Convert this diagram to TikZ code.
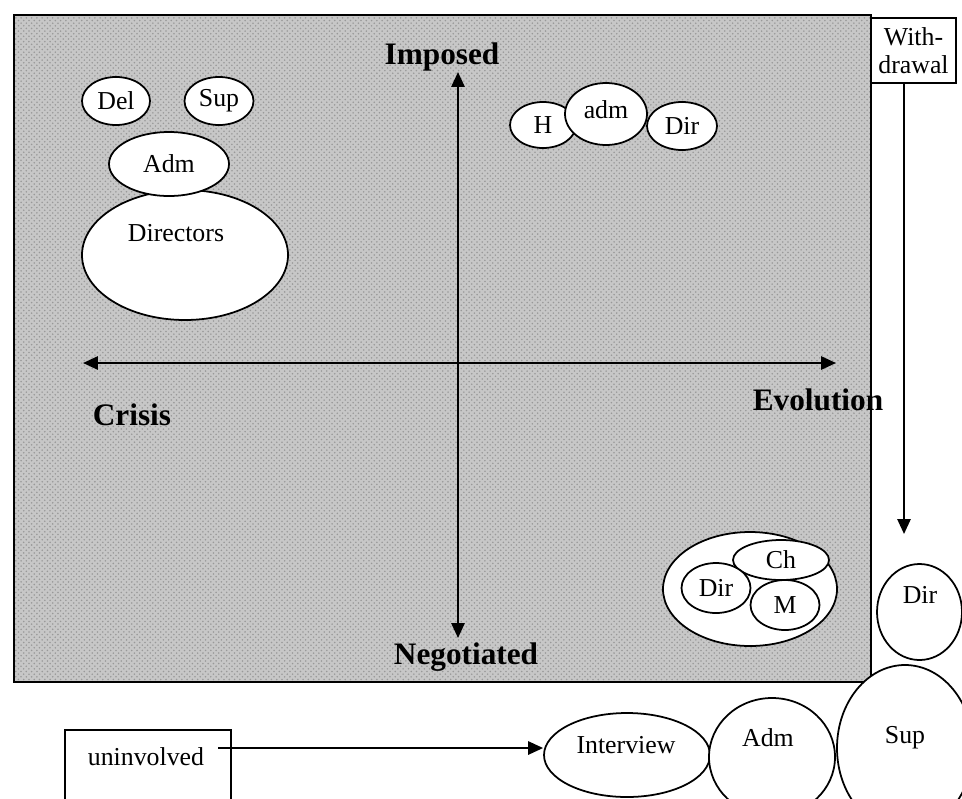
\documentclass[tikz,border=0pt]{standalone}
\usepackage{fontspec}
\setmainfont{Liberation Serif}
\usetikzlibrary{shapes.geometric,arrows.meta,patterns}
\newcommand{\px}{0.02cm}
\newcommand{\txtSize}{\fontsize{14.7}{16}\selectfont}
\newcommand{\axisSize}{\fontsize{17.8}{20}\selectfont\bfseries}

\begin{document}
\begin{tikzpicture}[x=\px, y=-\px]
  \tikzset{bub/.style 2 args={ellipse, draw, line width=1pt, fill=white, inner sep=0pt,
             minimum width=#1*\px, minimum height=#2*\px, font=\txtSize},
           txt/.style={inner sep=0pt, font=\txtSize},
           axlabel/.style={inner sep=0pt, font=\axisSize},
           axis/.style={line width=1.3pt, {Triangle[length=8.5pt,width=7.5pt]}-{Triangle[length=8.5pt,width=7.5pt]}},
           link/.style={line width=1.2pt, -{Triangle[length=8.5pt,width=7.5pt]}},
           boxed/.style={draw, line width=1pt, fill=white, inner sep=0pt, font=\txtSize, align=center}}
  \useasboundingbox (0,0) rectangle (962,798);
  \clip (0,0) rectangle (962,798);
  \fill[black!22] (14,15) rectangle (871,682);
  \fill[pattern=crosshatch dots, pattern color=black!40] (14,15) rectangle (871,682);
  \draw[line width=1.2pt] (14,15) rectangle (871,682);
  \coordinate (top) at (458,72);
  \coordinate (bottom) at (458,638);
  \coordinate (left) at (83,363);
  \coordinate (right) at (836,363);
  \draw[axis] (top) -- (bottom);
  \draw[axis] (left) -- (right);
  \node[axlabel] (imposed) at (442,57) {Imposed};
  \node[axlabel] (negotiated) at (466,657) {Negotiated};
  \node[axlabel] (crisis) at (132,415) {Crisis};
  \node[axlabel] (evolution) at (818,400) {Evolution};
  \node[bub={206}{130}] (directors) at (185,255) {};
  \node[txt] (directorsT) at (176,233) {Directors};
  \node[bub={120}{64}] (admL) at (169,164) {Adm};
  \node[bub={68}{48}] (del) at (116,101) {Del};
  \node[bub={69}{48}] (supL) at (219,101) {Sup};
  \node[bub={66}{46}] (h) at (543,125) {H};
  \node[bub={70}{48}] (dirT) at (682,126) {Dir};
  \node[bub={82}{62}] (admT) at (606,114) {};
  \node[txt] (admTT) at (606,110) {adm};
  \node[bub={174}{114}] (group) at (750,589) {};
  \node[bub={96}{40}] (ch) at (781,560) {Ch};
  \node[bub={69}{50}] (dirG) at (716,588) {Dir};
  \node[bub={69}{50}] (m) at (785,605) {M};
  \node[boxed, minimum width=85*\px, minimum height=65*\px] (withdrawal) at (913.5,50.5) {With-\\drawal};
  \coordinate (wdEnd) at (904,534);
  \draw[link] (withdrawal.south -| wdEnd) -- (wdEnd);
  \node[bub={85}{96}] (dirR) at (919.5,612) {};
  \node[txt] (dirRT) at (920,595) {Dir};
  \node[bub={166}{84}] (interview) at (627,755) {};
  \node[txt] (interviewT) at (626,745) {Interview};
  \node[bub={126}{118}] (admB) at (772,757) {};
  \node[txt] (admBT) at (768,738) {Adm};
  \node[bub={136}{166}] (supB) at (905,748) {};
  \node[txt] (supBT) at (905,738) {Sup};
  \node[boxed, minimum width=166*\px, minimum height=130*\px, anchor=north west] (uninvolved) at (64,729) {};
  \node[txt] (uninvolvedT) at (146,757) {uninvolved};
  \coordinate (uStart) at (218,748);
  \draw[link] (uStart) -- (uStart -| interview.west);
\end{tikzpicture}
\end{document}
